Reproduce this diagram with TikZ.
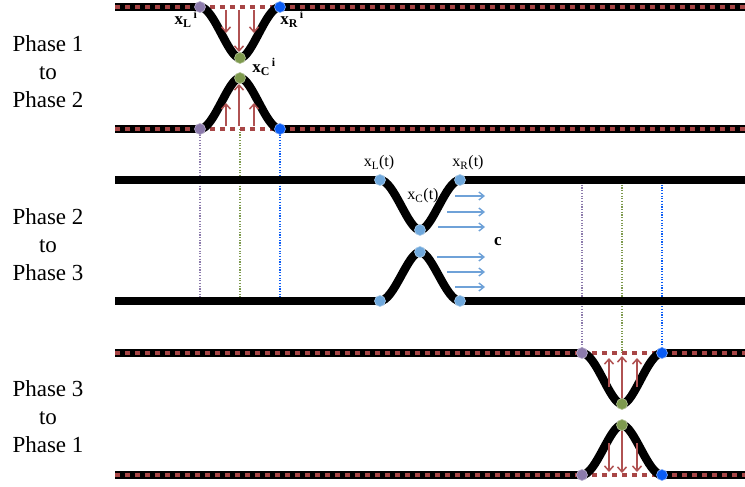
\documentclass[tikz,border=0pt]{standalone}
\usepackage{fontspec}
\setmainfont{Liberation Serif}
\usetikzlibrary{arrows.meta}
\definecolor{sqred}{HTML}{A84646}
\definecolor{arred}{HTML}{B05252}
\definecolor{dpurple}{HTML}{8C7BAC}
\definecolor{dblue}{HTML}{0A5CF5}
\definecolor{dgreen}{HTML}{7E9A4E}
\definecolor{dlblue}{HTML}{6FA8DC}
\definecolor{arblue}{HTML}{6FA2D8}
\begin{document}
\begin{tikzpicture}[x=1pt,y=-1pt,
  bline/.style={line width=7.5pt, draw=black},
  rsq/.style={line width=4pt, draw=sqred, dash pattern=on 4.5pt off 5.5pt},
  gapline/.style={line width=4pt, draw=sqred, dash pattern=on 5pt off 5pt},
  curveline/.style={line width=8.5pt, draw=black, line cap=round},
  dotbase/.style={circle, inner sep=0pt, minimum size=11pt, line width=0.6pt},
  dotp/.style={dotbase, fill=dpurple, draw=dpurple!60!white},
  dotb/.style={dotbase, fill=dblue, draw=dblue!50!white},
  dotg/.style={dotbase, fill=dgreen, draw=dgreen!60!white},
  dotl/.style={dotbase, fill=dlblue, draw=dlblue!60!white},
  rarr/.style={draw=arred, line width=1.5pt, -{Straight Barb[length=5pt,width=9pt]}},
  barr/.style={draw=arblue, line width=1.4pt, -{Straight Barb[length=5pt,width=8pt]}},
  vdot/.style={line width=1.2pt, dash pattern=on 1.2pt off 1.5pt},
  phaselbl/.style={align=center, font=\fontsize{23}{28}\selectfont},
  lbl/.style={inner sep=0pt, font=\fontsize{17}{19}\selectfont\bfseries},
  lblt/.style={inner sep=0pt, font=\fontsize{16}{18}\selectfont}
]
\useasboundingbox (0,0) rectangle (745,487);

% ---------- coordinates ----------
% Phase 1 -> 2
\coordinate (a1s) at (115,7);   \coordinate (a1e) at (745,7);
\coordinate (a2s) at (115,129); \coordinate (a2e) at (745,129);
\coordinate (aLt) at (200,7);  \coordinate (aRt) at (280,7);  \coordinate (aCt) at (240,58);
\coordinate (aLb) at (200,129);\coordinate (aRb) at (280,129);\coordinate (aCb) at (240,78);
% Phase 2 -> 3
\coordinate (b1s) at (115,180); \coordinate (b1e) at (745,180);
\coordinate (b2s) at (115,301); \coordinate (b2e) at (745,301);
\coordinate (bLt) at (380,180);\coordinate (bRt) at (460,180);\coordinate (bCt) at (420,230);
\coordinate (bLb) at (380,301);\coordinate (bRb) at (460,301);\coordinate (bCb) at (420,252);
% Phase 3 -> 1
\coordinate (c1s) at (115,353); \coordinate (c1e) at (745,353);
\coordinate (c2s) at (115,475); \coordinate (c2e) at (745,475);
\coordinate (cLt) at (582,353);\coordinate (cRt) at (662,353);\coordinate (cCt) at (622,404);
\coordinate (cLb) at (582,475);\coordinate (cRb) at (662,475);\coordinate (cCb) at (622,425);

% ---------- dotted verticals ----------
\draw[vdot, draw=dpurple] (aLb) -- (200,299);
\draw[vdot, draw=dgreen]  (240,129) -- (240,299);
\draw[vdot, draw=dblue]   (aRb) -- (280,299);
\draw[vdot, draw=dpurple] (582,182) -- (cLt);
\draw[vdot, draw=dgreen]  (622,182) -- (622,353);
\draw[vdot, draw=dblue]   (662,182) -- (cRt);

% ---------- Phase 1 -> 2 ----------
\draw[bline] (a1s) -- (aLt);  \draw[rsq] (a1s) -- (aLt);
\draw[bline] (aRt) -- (a1e);  \draw[rsq] (aRt) -- (a1e);
\draw[gapline] (aLt) -- (aRt);
\draw[bline] (a2s) -- (aLb);  \draw[rsq] (a2s) -- (aLb);
\draw[bline] (aRb) -- (a2e);  \draw[rsq] (aRb) -- (a2e);
\draw[gapline] (aLb) -- (aRb);
\draw[curveline] (aLt) .. controls (214,7) and (228,58) .. (aCt) .. controls (252,58) and (266,7) .. (aRt);
\draw[curveline] (aLb) .. controls (214,129) and (228,78) .. (aCb) .. controls (252,78) and (266,129) .. (aRb);
\draw[rarr] (226,10) -- (226,33);
\draw[rarr] (239,10) -- (239,52);
\draw[rarr] (254,10) -- (254,33);
\draw[rarr] (226,126) -- (226,103);
\draw[rarr] (239,126) -- (239,84);
\draw[rarr] (254,126) -- (254,103);
\node[dotp] (pLt) at (aLt) {};
\node[dotb] (pRt) at (aRt) {};
\node[dotg] (pCt) at (aCt) {};
\node[dotp] (pLb) at (aLb) {};
\node[dotb] (pRb) at (aRb) {};
\node[dotg] (pCb) at (aCb) {};
\node[lbl] (tL1) at (186,19) {x\textsubscript{L}\textsuperscript{\,i}};
\node[lbl] (tR1) at (292,19) {x\textsubscript{R}\textsuperscript{\,i}};
\node[lbl] (tC1) at (264,67) {x\textsubscript{C}\textsuperscript{\,i}};

% ---------- Phase 2 -> 3 ----------
\draw[bline] (b1s) -- (bLt);
\draw[bline] (bRt) -- (b1e);
\draw[bline] (b2s) -- (bLb);
\draw[bline] (bRb) -- (b2e);
\draw[curveline] (bLt) .. controls (394,180) and (408,230) .. (bCt) .. controls (432,230) and (446,180) .. (bRt);
\draw[curveline] (bLb) .. controls (394,301) and (408,252) .. (bCb) .. controls (432,252) and (446,301) .. (bRb);
\coordinate (ba1) at (455,196); \coordinate (ba1e) at (485,196);
\coordinate (ba2) at (447,212); \coordinate (ba2e) at (485,212);
\coordinate (ba3) at (438,227); \coordinate (ba3e) at (485,227);
\coordinate (ba4) at (437,257); \coordinate (ba4e) at (485,257);
\coordinate (ba5) at (447,272); \coordinate (ba5e) at (485,272);
\coordinate (ba6) at (455,287); \coordinate (ba6e) at (485,287);
\draw[barr] (ba1) -- (ba1e);
\draw[barr] (ba2) -- (ba2e);
\draw[barr] (ba3) -- (ba3e);
\draw[barr] (ba4) -- (ba4e);
\draw[barr] (ba5) -- (ba5e);
\draw[barr] (ba6) -- (ba6e);
\node[dotl] (qLt) at (bLt) {};
\node[dotl] (qRt) at (bRt) {};
\node[dotl] (qCt) at (bCt) {};
\node[dotl] (qLb) at (bLb) {};
\node[dotl] (qRb) at (bRb) {};
\node[dotl] (qCb) at (bCb) {};
\node[lblt] (tL2) at (379,163) {x\textsubscript{L}(t)};
\node[lblt] (tR2) at (468,163) {x\textsubscript{R}(t)};
\node[lblt] (tC2) at (423,196) {x\textsubscript{C}(t)};
\node[inner sep=0pt, font=\fontsize{17}{19}\selectfont\bfseries] (cc) at (498,242) {c};

% ---------- Phase 3 -> 1 ----------
\draw[bline] (c1s) -- (cLt);  \draw[rsq] (c1s) -- (cLt);
\draw[bline] (cRt) -- (c1e);  \draw[rsq] (cRt) -- (c1e);
\draw[gapline] (cLt) -- (cRt);
\draw[bline] (c2s) -- (cLb);  \draw[rsq] (c2s) -- (cLb);
\draw[bline] (cRb) -- (c2e);  \draw[rsq] (cRb) -- (c2e);
\draw[gapline] (cLb) -- (cRb);
\draw[curveline] (cLt) .. controls (596,353) and (610,404) .. (cCt) .. controls (634,404) and (648,353) .. (cRt);
\draw[curveline] (cLb) .. controls (596,475) and (610,425) .. (cCb) .. controls (634,425) and (648,475) .. (cRb);
\draw[rarr] (609,387) -- (609,358);
\draw[rarr] (622,400) -- (622,356);
\draw[rarr] (637,387) -- (637,358);
\draw[rarr] (609,443) -- (609,472);
\draw[rarr] (622,429) -- (622,473);
\draw[rarr] (637,443) -- (637,472);
\node[dotp] (rLt) at (cLt) {};
\node[dotb] (rRt) at (cRt) {};
\node[dotg] (rCt) at (cCt) {};
\node[dotp] (rLb) at (cLb) {};
\node[dotb] (rRb) at (cRb) {};
\node[dotg] (rCb) at (cCb) {};

% ---------- phase labels ----------
\node[phaselbl] (ph1) at (48,72) {Phase 1\\to\\Phase 2};
\node[phaselbl] (ph2) at (48,245) {Phase 2\\to\\Phase 3};
\node[phaselbl] (ph3) at (48,417) {Phase 3\\to\\Phase 1};
\end{tikzpicture}
\end{document}
